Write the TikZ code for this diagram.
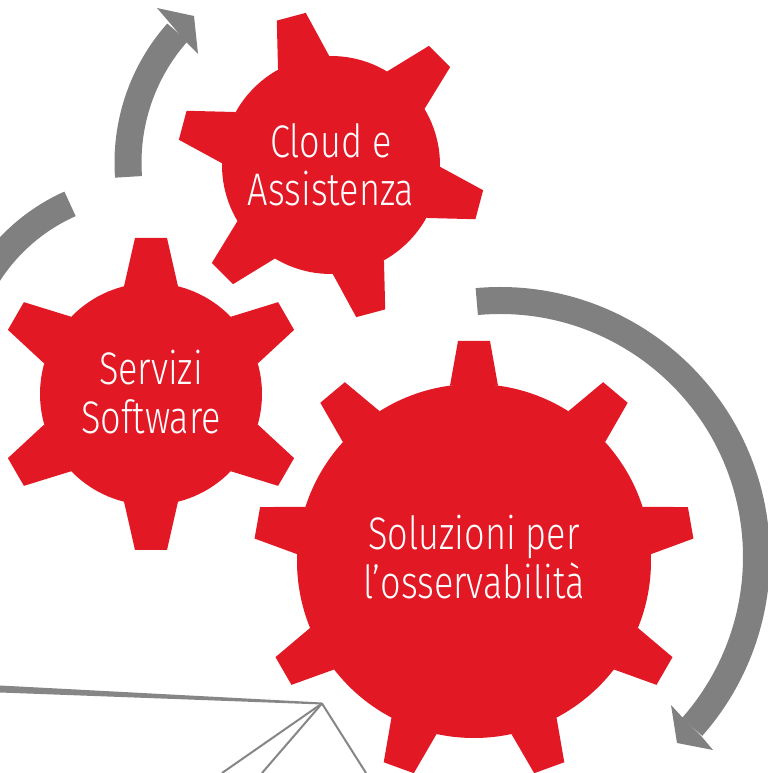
\documentclass[tikz,border=0pt]{standalone}
\usepackage{fontspec}
\setmainfont{Fira Sans Light}[FakeStretch=0.79]
\definecolor{gearred}{HTML}{E31825}
\definecolor{arrowgray}{HTML}{808080}
\tikzset{
  geartext/.style={text=white,align=center,font=\fontsize{13}{13.7}\selectfont},
  arcarrow/.style={draw=arrowgray,line width=0.27cm},
  arrowhead/.style={fill=arrowgray},
  thinline/.style={draw=arrowgray!95,line width=0.02cm}
}
% center, body radius, tip radius, base half width, tip half width, angles
\newcommand{\gearwheel}[6]{
  \fill [gearred] (#1) circle (#2 cm);
  \foreach \a in {#6} {
    \fill [gearred, shift={(#1)}, rotate=\a] ({sqrt(#2*#2-#4*#4)},-#4) -- (#3,-#5) -- (#3,#5) -- ({sqrt(#2*#2-#4*#4)},#4) -- cycle;
  }
}
\begin{document}
\begin{tikzpicture}
  \useasboundingbox (0,0) rectangle (7.68,7.73);
  \clip (0,0) rectangle (7.68,7.73);
  % gears
  \coordinate (cloudc) at (3.31,6.08);
  \coordinate (servc) at (1.51,3.79);
  \coordinate (solc) at (4.74,2.12);
  \gearwheel{cloudc}{1.09}{1.535}{0.265}{0.15}{105,45,-15,-75,-135,165}
  \gearwheel{servc}{1.11}{1.56}{0.27}{0.16}{90,30,-30,-90,-150,150}
  \gearwheel{solc}{1.77}{2.20}{0.24}{0.16}{90,50,10,-30,-70,-110,-150,170,130}
  % arrows
  \draw [arcarrow] ([shift={(95.2:2.565)}]5.00,2.16) arc (95.2:-41.5:2.565);
  \fill [arrowhead] (6.71,0.68) -- (6.83,0.55) -- (7.02,0.36) -- (7.13,0.23) -- (6.77,0.30) -- cycle;
  \draw [arcarrow] ([shift={(184.2:1.96)}]3.24,6.105) arc (184.2:138.4:1.96);
  \fill [arrowhead] (1.57,7.65) -- (1.69,7.51) -- (1.86,7.31) -- (1.98,7.19) -- (1.94,7.57) -- cycle;
  \draw [arcarrow] ([shift={(114:1.88)}]1.465,3.974) arc (114:155:1.88);
  % lines at the bottom
  \coordinate (apex) at (3.22,0.695);
  \coordinate (west) at (0,0.84);
  \coordinate (bota) at (2.22,0);
  \coordinate (botb) at (2.62,0);
  \coordinate (botc) at (3.66,0);
  \fill [arrowgray!95] ([yshift=0.035cm]west) -- ([yshift=0.01cm]apex) -- ([yshift=-0.01cm]apex) -- ([yshift=-0.035cm]west) -- cycle;
  \draw [thinline] (apex) -- (bota);
  \draw [thinline] (apex) -- (botb);
  \draw [thinline] (apex) -- (botc);
  % labels
  \node [geartext] (cloud) at (cloudc) {Cloud e\\Assistenza};
  \node [geartext] (servizi) at (1.51,3.81) {Servizi\\Software};
  \node [geartext] (soluzioni) at (4.74,2.16) {Soluzioni per\\l’osservabilità};
\end{tikzpicture}
\end{document}
